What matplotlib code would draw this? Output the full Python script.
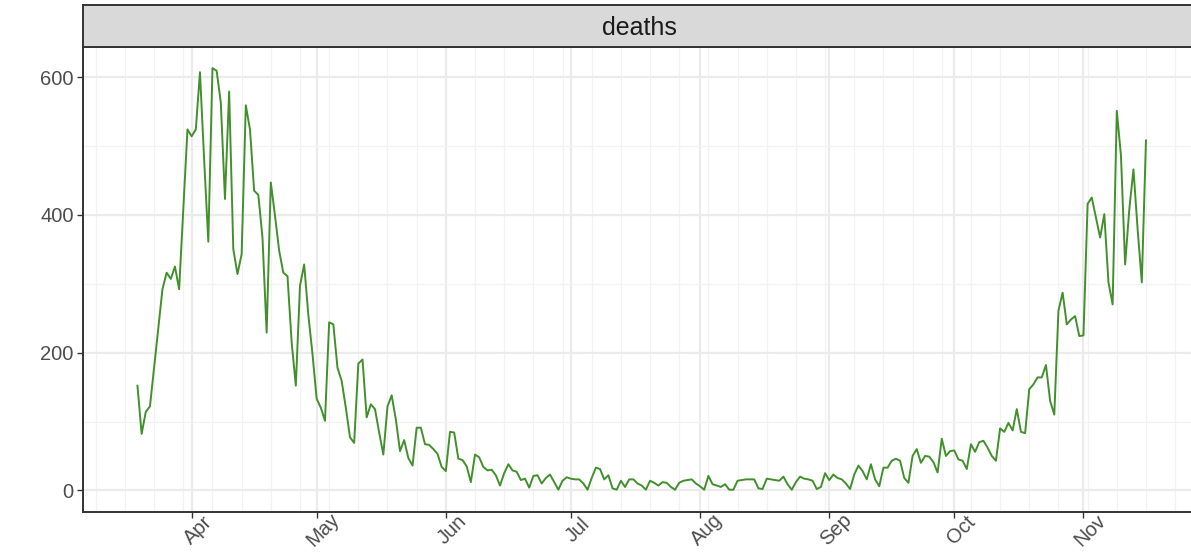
import pandas as pd
import matplotlib
matplotlib.use("Agg")
import matplotlib.pyplot as plt
import matplotlib.dates as mdates

# daily deaths, one value per day starting at start_date
start_date = "2020-03-19"
deaths = [
    152, 82, 114, 122, 179, 236, 292, 316, 307, 325, 292, 408, 524,
    514, 524, 607, 480, 361, 613, 609, 563, 423, 579, 350, 314, 343,
    559, 524, 435, 429, 367, 229, 447, 399, 348, 316, 311, 215, 152,
    297, 328, 255, 198, 133, 120, 101, 244, 241, 178, 159, 120, 77,
    69, 184, 190, 106, 125, 118, 84, 52, 122, 138, 103, 57, 73, 47,
    36, 91, 91, 67, 66, 60, 53, 34, 28, 85, 84, 46, 44, 35, 12, 52,
    48, 34, 29, 30, 22, 7, 25, 38, 29, 27, 15, 17, 4, 21, 22, 10, 18,
    23, 12, 1, 14, 19, 17, 16, 16, 10, 1, 18, 33, 31, 16, 22, 3, 1,
    14, 5, 16, 16, 10, 7, 1, 14, 11, 7, 12, 11, 5, 1, 11, 14, 15, 16,
    10, 6, 1, 21, 9, 7, 5, 9, 1, 1, 14, 15, 16, 16, 16, 3, 2, 17, 16,
    15, 14, 20, 9, 1, 12, 20, 17, 16, 14, 2, 5, 25, 15, 23, 18, 16,
    10, 2, 23, 36, 28, 16, 38, 16, 6, 33, 33, 43, 46, 43, 18, 11, 50,
    60, 40, 50, 49, 41, 26, 75, 50, 57, 58, 45, 43, 31, 67, 56, 70,
    72, 62, 50, 43, 90, 85, 98, 87, 118, 85, 83, 147, 154, 164, 164,
    182, 130, 110, 261, 287, 241, 248, 253, 224, 225, 416, 425, 396,
    367, 401, 302, 270, 551, 486, 328, 408, 466, 379, 302, 508,
]
dates = pd.date_range(start_date, periods=len(deaths), freq="D")

month_ticks = pd.date_range("2020-04-01", "2020-11-01", freq="MS")
month_labels = [d.strftime("%b") for d in month_ticks]
week_ticks = pd.date_range("2020-03-09", "2020-11-23", freq="W-MON")
y_major = [0, 200, 400, 600]
y_minor = [100, 300, 500]

line_color = "#41902c"
font = "Liberation Sans"

fig = plt.figure(figsize=(11.91, 5.54), dpi=100)
ax = fig.add_axes([0.0694, 0.0767, 0.9353, 0.8385])
strip = fig.add_axes([0.0694, 0.9152, 0.9353, 0.0758])

ax.plot(dates, deaths, color=line_color, linewidth=1.4, zorder=3)

ax.set_xticks(month_ticks)
ax.set_xticklabels(month_labels)
ax.set_xticks(week_ticks, minor=True)
ax.set_yticks(y_major)
ax.set_yticks(y_minor, minor=True)

# limits after the ticks, so set_xticks cannot widen them
x_lo = mdates.date2num(pd.Timestamp("2020-03-18")) - 12.15
x_hi = mdates.date2num(dates[-1]) + 12.15
ax.set_xlim(x_lo, x_hi)
ax.set_ylim(-30.65, 643.65)

ax.grid(which="major", color="#EBEBEB", linewidth=1.6, zorder=0)
ax.grid(which="minor", color="#F2F2F2", linewidth=0.9, zorder=0)
ax.set_axisbelow(True)

ax.tick_params(which="minor", length=0)
ax.tick_params(which="major", length=4.5, width=1, color="#333333",
               labelcolor="#4D4D4D", labelsize=14.5)
ax.tick_params(axis="y", pad=2)
ax.tick_params(axis="x", pad=4)
for lbl in ax.get_xticklabels():
    lbl.set_rotation(45)
    lbl.set_rotation_mode("anchor")
    lbl.set_ha("center")
    lbl.set_va("top")
    lbl.set_fontfamily(font)
for lbl in ax.get_yticklabels():
    lbl.set_fontfamily(font)

for sp in ax.spines.values():
    sp.set_color("#333333")
    sp.set_linewidth(1.4)

strip.set_facecolor("#D9D9D9")
strip.set_xticks([])
strip.set_yticks([])
for sp in strip.spines.values():
    sp.set_color("#333333")
    sp.set_linewidth(1.4)
strip.text(0.5, 0.45, "deaths", transform=strip.transAxes, ha="center",
           va="center", fontsize=18, color="#1A1A1A", fontfamily=font)

fig.savefig("out.png", dpi=100)
